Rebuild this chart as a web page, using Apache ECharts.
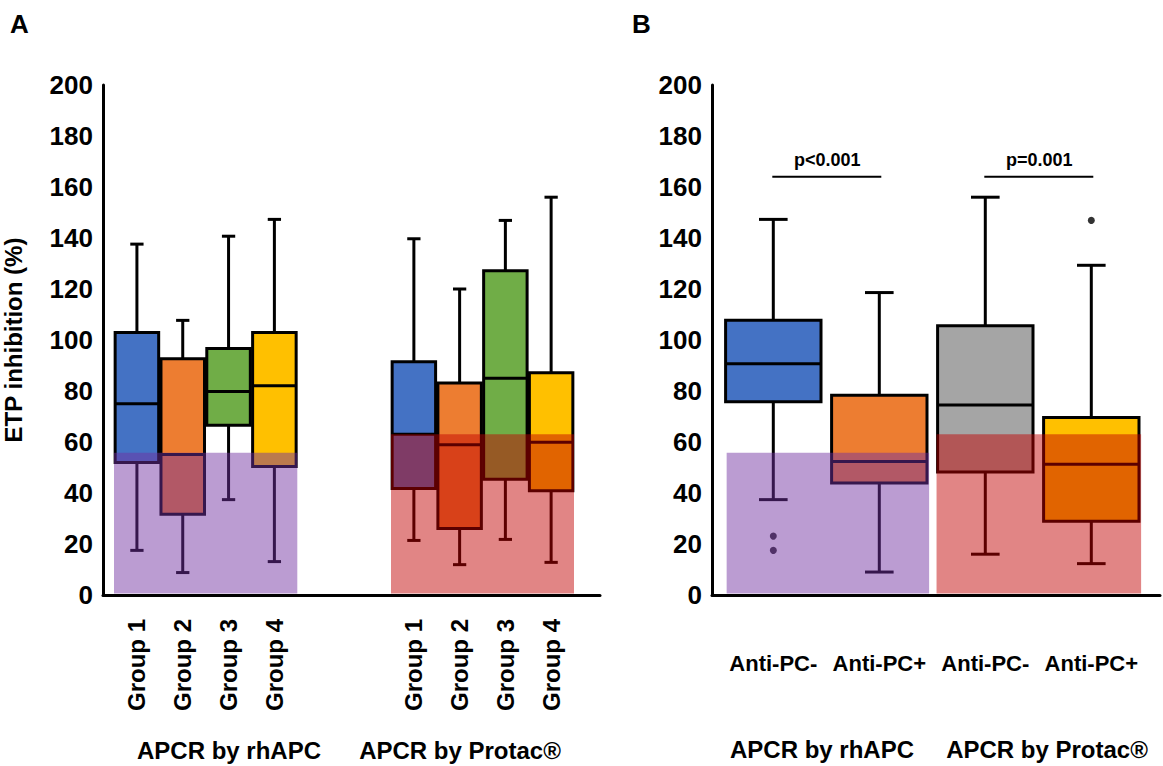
<!DOCTYPE html>
<html>
<head>
<meta charset="utf-8">
<script src="https://cdn.jsdelivr.net/npm/echarts@6/dist/echarts.min.js"></script>
<style>
  html, body { margin: 0; padding: 0; background: #fff; }
  #chart { width: 1163px; height: 766px; }
</style>
</head>
<body>
<div id="chart"></div>
<script>
// ---------- data ----------
const groupsA = ['Group 1', 'Group 2', 'Group 3', 'Group 4'];
const groupsB = ['Anti-PC-', 'Anti-PC+', 'Anti-PC-', 'Anti-PC+'];
// [low whisker, Q1, median, Q3, high whisker]
const rhAPC_A = [
  [17.5, 52.0, 75.0, 102.9, 137.6],
  [8.8, 31.7, 55.1, 92.6, 107.7],
  [37.4, 66.6, 79.8, 96.7, 140.7],
  [13.1, 50.4, 82.1, 102.9, 147.3]
];
const protac_A = [
  [21.4, 41.8, 63.0, 91.5, 139.7],
  [11.9, 26.1, 58.9, 83.1, 120.0],
  [21.8, 45.4, 85.0, 127.2, 146.9],
  [12.8, 40.9, 59.9, 87.2, 156.0]
];
const boxes_B = [
  [37.4, 75.8, 90.7, 107.7, 147.3],
  [9.0, 43.9, 52.4, 78.3, 118.6],
  [16.0, 48.2, 74.5, 105.6, 156.0],
  [12.3, 28.9, 51.3, 69.6, 129.3]
];
const outliers_B = [[0, 23.1], [0, 17.5], [3, 146.9]];
const bandRhAPC = 55.8;
const bandProtac = 63.0;
const pPairs = [[0, 1, 164], [2, 3, 164]];
const pLabels = ['p<0.001', 'p=0.001'];
const groupTitles = ['APCR by rhAPC', 'APCR by Protac®'];
const colorsA = ['#4472C4', '#ED7D31', '#70AD47', '#FFC000'];
const colorsB = ['#4472C4', '#ED7D31', '#A5A5A5', '#FFC000'];
const yMin = 0, yMax = 200, yStep = 20;

// ---------- helpers ----------
const FONT = "'Liberation Sans', Arial, sans-serif";
function rows(list) { return list.map((v, i) => [i].concat(v)); }

function boxRenderer(colors, boxRatio, capRatio) {
  return function (params, api) {
    const i = api.value(0);
    const lo = api.coord([i, api.value(1)]);
    const q1 = api.coord([i, api.value(2)]);
    const md = api.coord([i, api.value(3)]);
    const q3 = api.coord([i, api.value(4)]);
    const hi = api.coord([i, api.value(5)]);
    const slot = api.size([1, 0])[0];
    const bw = slot * boxRatio, cw = slot * capRatio, x = lo[0];
    const st = { stroke: '#000', lineWidth: 3, fill: null };
    return {
      type: 'group',
      children: [
        { type: 'line', shape: { x1: x, y1: hi[1], x2: x, y2: q3[1] }, style: st },
        { type: 'line', shape: { x1: x, y1: q1[1], x2: x, y2: lo[1] }, style: st },
        { type: 'line', shape: { x1: x - cw / 2, y1: hi[1], x2: x + cw / 2, y2: hi[1] }, style: st },
        { type: 'line', shape: { x1: x - cw / 2, y1: lo[1], x2: x + cw / 2, y2: lo[1] }, style: st },
        { type: 'rect', shape: { x: x - bw / 2, y: q3[1], width: bw, height: q1[1] - q3[1] },
          style: { fill: colors[params.dataIndex], stroke: '#000', lineWidth: 3 } },
        { type: 'line', shape: { x1: x - bw / 2, y1: md[1], x2: x + bw / 2, y2: md[1] }, style: st }
      ]
    };
  };
}

function bandRenderer(color, padL, padR) {
  return function (params, api) {
    const slot = api.size([1, 0])[0];
    const a = api.coord([api.value(0), api.value(2)]);
    const b = api.coord([api.value(1), 0]);
    const x0 = a[0] - slot * padL, x1 = b[0] + slot * padR;
    return { type: 'rect', shape: { x: x0, y: a[1], width: x1 - x0, height: b[1] - a[1] - 1.5 },
             style: { fill: color } };
  };
}

function pRenderer(params, api) {
  const a = api.coord([api.value(0), api.value(2)]);
  const b = api.coord([api.value(1), api.value(2)]);
  return {
    type: 'group',
    children: [
      { type: 'line', shape: { x1: a[0] - 1, y1: a[1], x2: b[0] + 2, y2: b[1] }, style: { stroke: '#000', lineWidth: 2 } },
      { type: 'text', style: { text: pLabels[params.dataIndex], x: (a[0] + b[0]) / 2 + 1, y: a[1] - 8,
        textAlign: 'center', textVerticalAlign: 'bottom', fill: '#000', font: 'bold 18px ' + FONT } }
    ]
  };
}

const purple = 'rgba(112,48,160,0.48)';
const red = 'rgba(192,0,0,0.48)';

const yLabel = { fontFamily: FONT, fontWeight: 'bold', fontSize: 26, color: '#000', margin: 10 };
const axisLineBlack = { show: true, lineStyle: { color: '#000', width: 3 } };

const grids = [
  { left: 102, top: 85, width: 498, height: 510 },      // A frame
  { left: 114, top: 85, width: 183.3, height: 510 },    // A rhAPC
  { left: 391, top: 85, width: 183, height: 510 },      // A Protac
  { left: 712, top: 85, width: 448, height: 510 },      // B frame
  { left: 720.3, top: 85, width: 424, height: 510 }     // B boxes
];

const hiddenY = (g) => ({ gridIndex: g, type: 'value', min: yMin, max: yMax, interval: yStep, show: false });
const catLabelA = { rotate: 90, margin: 24, interval: 0, fontFamily: FONT, fontWeight: 'bold', fontSize: 24, color: '#000' };

const option = {
  animation: false,
  backgroundColor: '#fff',
  grid: grids,
  xAxis: [
    { gridIndex: 0, type: 'category', data: [''], axisLine: axisLineBlack, axisTick: { show: false }, axisLabel: { show: false }, z: 10 },
    { gridIndex: 1, type: 'category', data: groupsA, axisLine: { show: false }, axisTick: { show: false }, axisLabel: catLabelA },
    { gridIndex: 2, type: 'category', data: groupsA, axisLine: { show: false }, axisTick: { show: false }, axisLabel: catLabelA },
    { gridIndex: 3, type: 'category', data: [''], axisLine: axisLineBlack, axisTick: { show: false }, axisLabel: { show: false }, z: 10 },
    { gridIndex: 4, type: 'category', data: groupsB, axisLine: { show: false }, axisTick: { show: false },
      axisLabel: { interval: 0, margin: 57, fontFamily: FONT, fontWeight: 'bold', fontSize: 22, color: '#000' } }
  ],
  yAxis: [
    { gridIndex: 0, type: 'value', min: yMin, max: yMax, interval: yStep, axisLine: axisLineBlack,
      axisTick: { show: false }, splitLine: { show: false }, axisLabel: yLabel, z: 10,
      name: 'ETP inhibition (%)', nameLocation: 'middle', nameGap: 78,
      nameTextStyle: { fontFamily: FONT, fontWeight: 'bold', fontSize: 24, color: '#000' } },
    hiddenY(1), hiddenY(2),
    { gridIndex: 3, type: 'value', min: yMin, max: yMax, interval: yStep, axisLine: axisLineBlack,
      axisTick: { show: false }, splitLine: { show: false }, axisLabel: yLabel, z: 10 },
    hiddenY(4)
  ],
  series: [
    { type: 'custom', xAxisIndex: 1, yAxisIndex: 1, z: 2, data: rows(rhAPC_A),
      encode: { x: 0, y: [1, 2, 3, 4, 5] }, renderItem: boxRenderer(colorsA, 0.95, 0.29) },
    { type: 'custom', xAxisIndex: 2, yAxisIndex: 2, z: 2, data: rows(protac_A),
      encode: { x: 0, y: [1, 2, 3, 4, 5] }, renderItem: boxRenderer(colorsA, 0.95, 0.29) },
    { type: 'custom', xAxisIndex: 4, yAxisIndex: 4, z: 2, data: rows(boxes_B),
      encode: { x: 0, y: [1, 2, 3, 4, 5] }, renderItem: boxRenderer(colorsB, 0.9, 0.27) },
    { type: 'scatter', xAxisIndex: 4, yAxisIndex: 4, z: 3, data: outliers_B, symbolSize: 7,
      itemStyle: { color: '#000' } },
    { type: 'custom', xAxisIndex: 1, yAxisIndex: 1, z: 5, data: [[0, 3, bandRhAPC]],
      encode: { x: [0, 1], y: 2 }, renderItem: bandRenderer(purple, 0.5, 0.5) },
    { type: 'custom', xAxisIndex: 2, yAxisIndex: 2, z: 5, data: [[0, 3, bandProtac]],
      encode: { x: [0, 1], y: 2 }, renderItem: bandRenderer(red, 0.5, 0.5) },
    { type: 'custom', xAxisIndex: 4, yAxisIndex: 4, z: 5, data: [[0, 1, bandRhAPC]],
      encode: { x: [0, 1], y: 2 }, renderItem: bandRenderer(purple, 0.44, 0.47) },
    { type: 'custom', xAxisIndex: 4, yAxisIndex: 4, z: 5, data: [[2, 3, bandProtac]],
      encode: { x: [0, 1], y: 2 }, renderItem: bandRenderer(red, 0.46, 0.47) },
    { type: 'custom', xAxisIndex: 4, yAxisIndex: 4, z: 6, data: pPairs,
      encode: { x: [0, 1], y: 2 }, renderItem: pRenderer }
  ],
  graphic: [
    { type: 'text', left: 10, top: 11, style: { text: 'A', font: 'bold 26px ' + FONT, fill: '#000' } },
    { type: 'text', left: 632, top: 11, style: { text: 'B', font: 'bold 26px ' + FONT, fill: '#000' } },
    { type: 'text', x: 229, y: 750, style: { text: groupTitles[0], font: 'bold 24px ' + FONT, fill: '#000', textAlign: 'center', textVerticalAlign: 'middle' } },
    { type: 'text', x: 460, y: 750, style: { text: groupTitles[1], font: 'bold 24px ' + FONT, fill: '#000', textAlign: 'center', textVerticalAlign: 'middle' } },
    { type: 'text', x: 822, y: 749, style: { text: groupTitles[0], font: 'bold 24px ' + FONT, fill: '#000', textAlign: 'center', textVerticalAlign: 'middle' } },
    { type: 'text', x: 1047, y: 749, style: { text: groupTitles[1], font: 'bold 24px ' + FONT, fill: '#000', textAlign: 'center', textVerticalAlign: 'middle' } }
  ]
};

const chart = echarts.init(document.getElementById('chart'), null, { renderer: 'svg' });
chart.setOption(option);
</script>
</body>
</html>
